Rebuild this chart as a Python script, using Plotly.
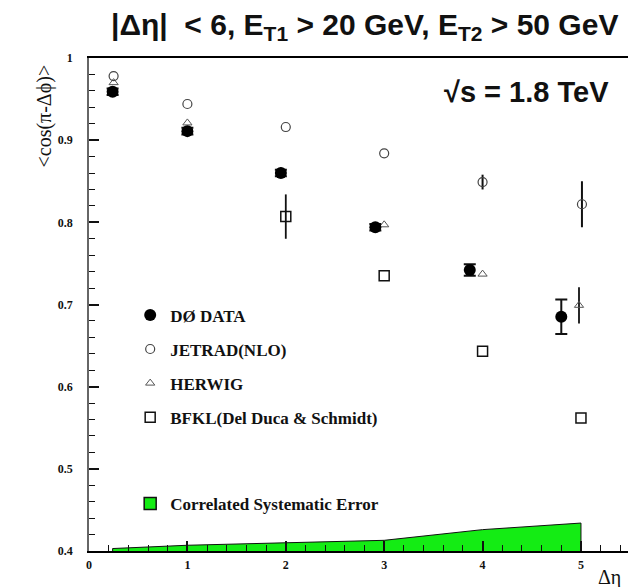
import plotly.graph_objects as go

# ---- data ----
dzero_x = [0.24, 1.0, 1.95, 2.91, 3.87, 4.80]
dzero_y = [0.959, 0.911, 0.860, 0.794, 0.742, 0.685]
dzero_err = [0.004, 0.004, 0.004, 0.004, 0.007, 0.021]

jetrad_x = [0.25, 1.0, 2.0, 3.0, 4.0, 5.01]
jetrad_y = [0.978, 0.944, 0.916, 0.884, 0.849, 0.822]
jetrad_err = [0, 0, 0, 0, 0.009, 0.028]

herwig_x = [0.25, 1.0, 1.95, 3.0, 4.0, 4.98]
herwig_y = [0.970, 0.921, 0.862, 0.797, 0.737, 0.699]
herwig_err = [0, 0, 0, 0, 0, 0.022]

bfkl_x = [2.0, 3.0, 4.0, 5.0]
bfkl_y = [0.807, 0.735, 0.643, 0.562]
bfkl_err = [0.027, 0, 0, 0]

syst_x = [0.24, 1.0, 2.0, 3.0, 4.0, 5.0]
syst_y = [0.403, 0.407, 0.410, 0.413, 0.426, 0.434]
syst_base = 0.4

y_ticks = [0.4, 0.5, 0.6, 0.7, 0.8, 0.9, 1.0]
y_ticktext = ["0.4", "0.5", "0.6", "0.7", "0.8", "0.9", "1"]
x_ticks = [0, 1, 2, 3, 4, 5]
x_ticktext = ["0", "1", "2", "3", "4", "5"]

SERIF = "Liberation Serif"
SANS = "Liberation Sans"
GREEN = "#14ec14"

fig = go.Figure()

# systematic error band (closed polygon down to the baseline)
band_x = [syst_x[0]] + syst_x + [syst_x[-1]]
band_y = [syst_base] + syst_y + [syst_base]
fig.add_trace(go.Scatter(
    x=band_x, y=band_y, mode="lines", fill="toself",
    fillcolor=GREEN, line=dict(color="#111111", width=1),
    showlegend=False, hoverinfo="skip",
))
# legend key for the band (box-shaped swatch, no data of its own)
fig.add_trace(go.Bar(
    x=[None], y=[None], name="Correlated Systematic Error", legend="legend2",
    marker=dict(color=GREEN, line=dict(color="#111111", width=1.5)),
    showlegend=True,
))

# error bars (drawn separately so legend icons stay clean)
def err_trace(x, y, err, width, thick):
    return go.Scatter(
        x=x, y=y, mode="markers", marker=dict(size=2, opacity=0),
        error_y=dict(type="data", array=err, visible=True, color="#111111",
                     thickness=thick, width=width),
        showlegend=False, hoverinfo="skip",
    )

fig.add_trace(err_trace(bfkl_x, bfkl_y, bfkl_err, 0, 1.8))
fig.add_trace(err_trace(herwig_x, herwig_y, herwig_err, 0, 1.8))
fig.add_trace(err_trace(jetrad_x, jetrad_y, jetrad_err, 0, 2.0))
fig.add_trace(err_trace(dzero_x, dzero_y, dzero_err, 6, 2.0))

fig.add_trace(go.Scatter(
    x=bfkl_x, y=bfkl_y, mode="markers", name="BFKL(Del Duca &amp; Schmidt)",
    marker=dict(symbol="square-open", size=10, color="#111111", line=dict(width=1.5)),
    legendgroup="d", legendrank=4,
))
fig.add_trace(go.Scatter(
    x=herwig_x, y=herwig_y, mode="markers", name="HERWIG",
    marker=dict(symbol="triangle-up-open", size=8, color="#555555", line=dict(width=1)),
    legendgroup="c", legendrank=3,
))
fig.add_trace(go.Scatter(
    x=jetrad_x, y=jetrad_y, mode="markers", name="JETRAD(NLO)",
    marker=dict(symbol="circle-open", size=9, color="#444444", line=dict(width=1.2)),
    legendgroup="b", legendrank=2,
))
fig.add_trace(go.Scatter(
    x=dzero_x, y=dzero_y, mode="markers", name="DØ DATA",
    marker=dict(symbol="circle", size=12, color="#000000"),
    legendgroup="a", legendrank=1,
))

fig.update_layout(
    width=628, height=587,
    margin=dict(l=89, r=0, t=58, b=36),
    paper_bgcolor="white", plot_bgcolor="white",
    showlegend=True,
    legend=dict(
        x=0.0764, y=0.5145, xanchor="left", yanchor="top",
        font=dict(family=SERIF, size=17, color="#111111", weight="bold"),
        bgcolor="rgba(0,0,0,0)", tracegroupgap=9, traceorder="grouped",
        itemwidth=30,
    ),
    legend2=dict(
        x=0.0764, y=0.132, xanchor="left", yanchor="top",
        font=dict(family=SERIF, size=17, color="#111111", weight="bold"),
        bgcolor="rgba(0,0,0,0)",
    ),
    xaxis=dict(
        range=[0, 5.478], showgrid=False, zeroline=False,
        showline=True, linecolor="#000000", linewidth=1.6, mirror=True,
        ticks="inside", ticklen=10, tickwidth=1.5, tickcolor="#111111",
        tickvals=x_ticks, ticktext=x_ticktext,
        minor=dict(dtick=0.2, ticks="inside", ticklen=6, tickwidth=1.2, tickcolor="#111111"),
        tickfont=dict(family=SERIF, size=12, color="#111111", weight="bold"),
        ticklabelstandoff=2,
    ),
    yaxis=dict(
        range=[0.4, 1.0], showgrid=False, zeroline=False,
        showline=True, linecolor="#666666", linewidth=1.5, mirror=False,
        ticks="inside", ticklen=10, tickwidth=1.5, tickcolor="#111111",
        tickvals=y_ticks, ticktext=y_ticktext,
        minor=dict(dtick=0.02, ticks="inside", ticklen=6, tickwidth=1.2, tickcolor="#111111"),
        tickfont=dict(family=SERIF, size=12, color="#111111", weight="bold"),
        ticklabelstandoff=12,
    ),
)

annotations = [
    dict(text="|Δη|&nbsp;&nbsp;&lt; 6, E<sub>T1</sub> &gt; 20 GeV, E<sub>T2</sub> &gt; 50 GeV",
         x=0.511, y=1.064, xref="paper", yref="paper", xanchor="center", yanchor="middle",
         showarrow=False, font=dict(family=SANS, size=30, color="#111111", weight="bold")),
    dict(text="√s = 1.8 TeV",
         x=0.811, y=0.932, xref="paper", yref="paper", xanchor="center", yanchor="middle",
         showarrow=False, font=dict(family=SANS, size=29, color="#111111", weight="bold")),
    dict(text="&lt;cos(π-Δϕ)&gt;", textangle=-90,
         x=-0.082, y=0.883, xref="paper", yref="paper", xanchor="center", yanchor="middle",
         showarrow=False, font=dict(family=SERIF, size=20, color="#111111")),
    dict(text="Δη",
         x=0.99, y=-0.054, xref="paper", yref="paper", xanchor="right", yanchor="middle",
         showarrow=False, font=dict(family=SERIF, size=20, color="#111111")),
]
fig.update_layout(annotations=annotations)

fig.write_html("out.html")
